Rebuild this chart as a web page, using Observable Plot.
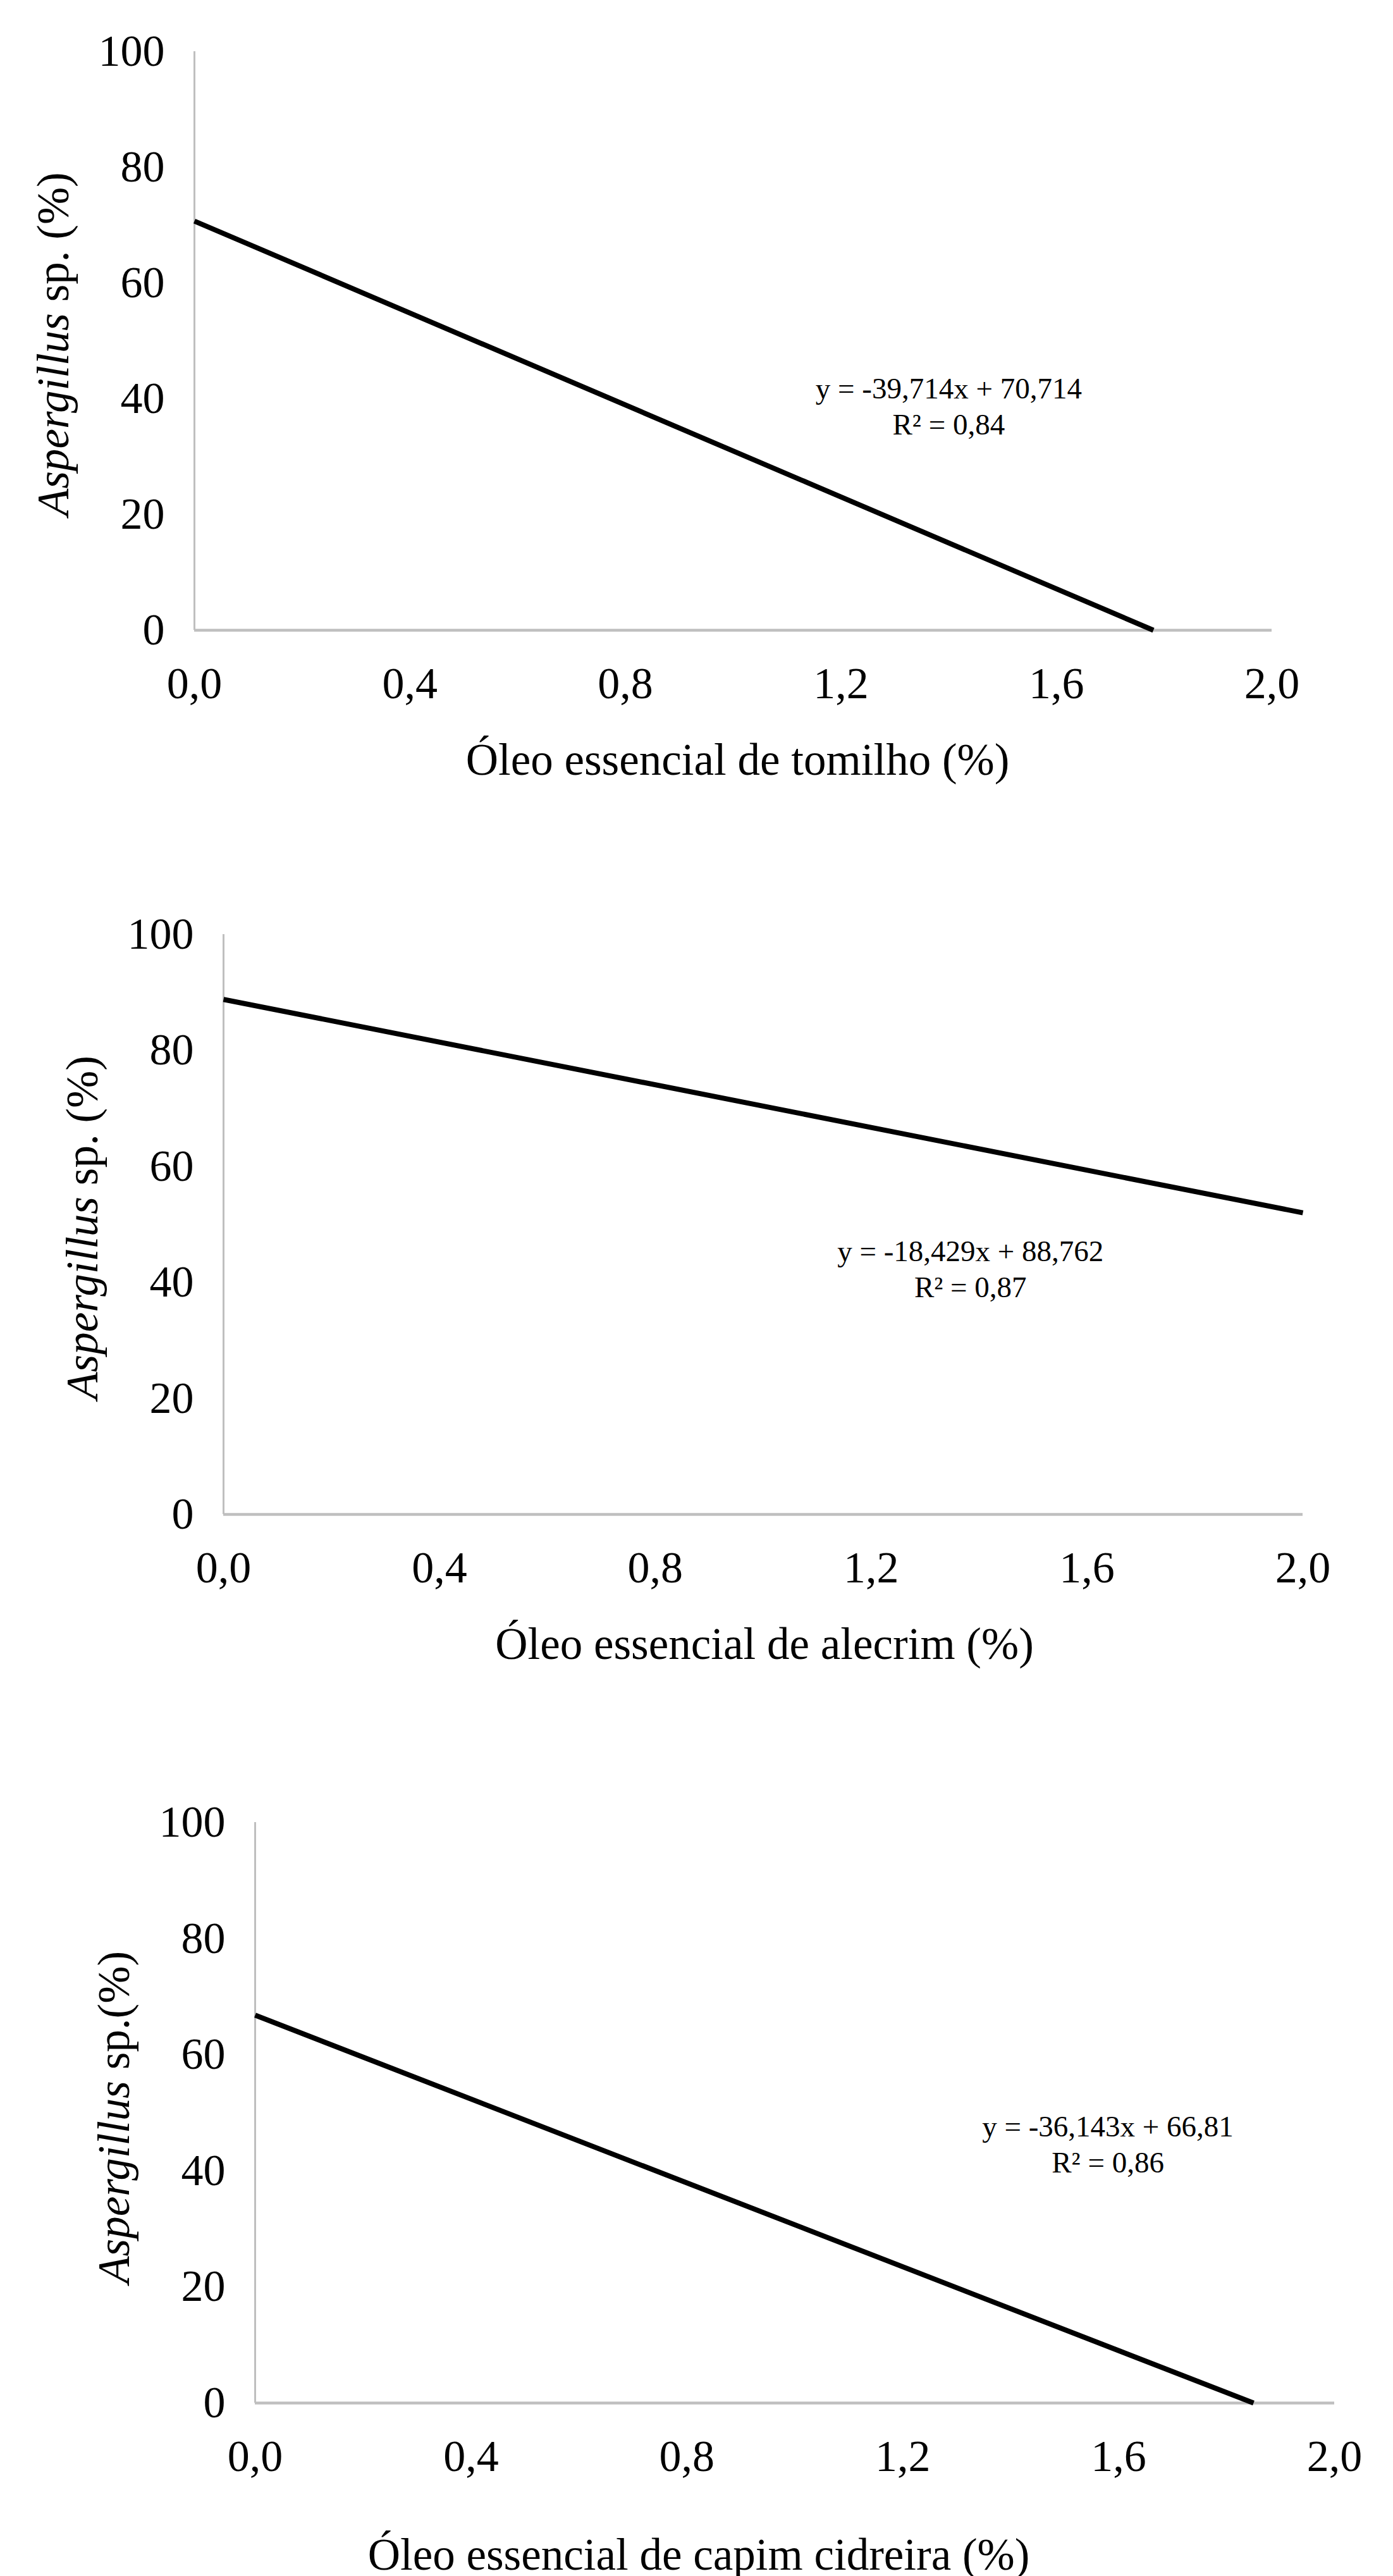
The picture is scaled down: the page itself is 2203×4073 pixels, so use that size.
<!DOCTYPE html>
<html>
<head>
<meta charset="utf-8">
<script src="https://cdn.jsdelivr.net/npm/d3@7"></script>
<script src="https://cdn.jsdelivr.net/npm/@observablehq/plot@0.6"></script>
<style>
  body { margin: 0; background: #fff; }
  #wrap { position: relative; width: 2203px; height: 4073px; background: #fff; }
  #wrap > div { position: absolute; left: 0; }
</style>
</head>
<body>
<div id="wrap">
  <div id="p1" style="top:0px"></div>
  <div id="p2" style="top:1300px"></div>
  <div id="p3" style="top:2700px"></div>
</div>
<script>
// ---- Data ----
const xTicks = [0, 0.4, 0.8, 1.2, 1.6, 2.0];
const xTickLabels = ["0,0", "0,4", "0,8", "1,2", "1,6", "2,0"];
const yTicks = [0, 20, 40, 60, 80, 100];
const yTickLabels = ["0", "20", "40", "60", "80", "100"];

// fitted lines (endpoints)
const tomilhoX = [0, 1.78];
const tomilhoY = [70.7, 0];
const alecrimX = [0, 2.0];
const alecrimY = [88.8, 52.0];
const capimX = [0, 1.85];
const capimY = [66.8, 0];

const xTitles = ["Óleo essencial de tomilho (%)", "Óleo essencial de alecrim (%)", "Óleo essencial de capim cidreira (%)"];
const yTitleItalic = ["Aspergillus", "Aspergillus", "Aspergillus"];
const yTitleRest = ["\u00a0sp. (%)", "\u00a0sp. (%)", "\u00a0sp.(%)"];
const equations = ["y = -39,714x + 70,714\nR² = 0,84", "y = -18,429x + 88,762\nR² = 0,87", "y = -36,143x + 66,81\nR² = 0,86"];

const FONT = "'Liberation Serif', 'Times New Roman', serif";

function panel(cfg) {
  const pts = cfg.xs.map((x, i) => ({x, y: cfg.ys[i]}));
  return Plot.plot({
    width: 2203,
    height: cfg.height,
    marginLeft: cfg.ml,
    marginRight: cfg.mr,
    marginTop: cfg.mt,
    marginBottom: cfg.mb,
    style: {fontFamily: FONT, background: "#fff", color: "#000", overflow: "visible"},
    x: {domain: [0, 2]},
    y: {domain: [0, 100]},
    marks: [
      Plot.axisY({ticks: yTicks, tickFormat: (d, i) => yTickLabels[i], tickSize: 0, tickPadding: 47, fontSize: 70, label: null}),
      Plot.axisX({ticks: xTicks, tickFormat: (d, i) => xTickLabels[i], tickSize: 0, tickPadding: 58, fontSize: 70, label: null}),
      Plot.ruleX([0], {y1: 0, y2: 100, stroke: "#bfbfbf", strokeWidth: 3}),
      Plot.ruleY([0], {x1: 0, x2: 2, stroke: "#bfbfbf", strokeWidth: 4.5}),
      Plot.line(pts, {x: "x", y: "y", stroke: "#000", strokeWidth: 8, strokeLinecap: "butt"}),
      Plot.text([cfg.eq], {x: cfg.eqX, y: cfg.eqY, text: d => d, fontSize: 47, lineHeight: 1.213, textAnchor: "middle", lineAnchor: "middle", fill: "#000"}),
      Plot.text([cfg.xTitle], {frameAnchor: "bottom", text: d => d, dx: cfg.xtDx, dy: cfg.xtDy, fontSize: 71, lineAnchor: "bottom", fill: "#000"}),
      Plot.text([cfg.yItalic], {frameAnchor: "left", y: cfg.ySplit, text: d => d, rotate: -90, dx: -200, fontSize: 71, fontStyle: "italic", textAnchor: "end", lineAnchor: "bottom", fill: "#000"}),
      Plot.text([cfg.yRest], {frameAnchor: "left", y: cfg.ySplit, text: d => d, rotate: -90, dx: -200, fontSize: 71, textAnchor: "start", lineAnchor: "bottom", fill: "#000"})
    ]
  });
}

document.getElementById("p1").append(panel({
  height: 1300, ml: 307, mr: 192, mt: 81, mb: 304,
  xs: tomilhoX, ys: tomilhoY,
  eq: equations[0], eqX: 1.4, eqY: 38.9,
  xTitle: xTitles[0], xtDx: 7, xtDy: 228,
  yItalic: yTitleItalic[0], yRest: yTitleRest[0], ySplit: 54.8
}));
document.getElementById("p2").append(panel({
  height: 1400, ml: 353, mr: 143, mt: 177, mb: 306,
  xs: alecrimX, ys: alecrimY,
  eq: equations[1], eqX: 1.384, eqY: 42.6,
  xTitle: xTitles[1], xtDx: 2, xtDy: 228,
  yItalic: yTitleItalic[1], yRest: yTitleRest[1], ySplit: 54.8
}));
document.getElementById("p3").append(panel({
  height: 1373, ml: 403, mr: 93, mt: 181, mb: 274,
  xs: capimX, ys: capimY,
  eq: equations[2], eqX: 1.58, eqY: 44.8,
  xTitle: xTitles[2], xtDx: -152, xtDy: 263,
  yItalic: yTitleItalic[2], yRest: yTitleRest[2], ySplit: 55.5
}));
</script>
</body>
</html>
